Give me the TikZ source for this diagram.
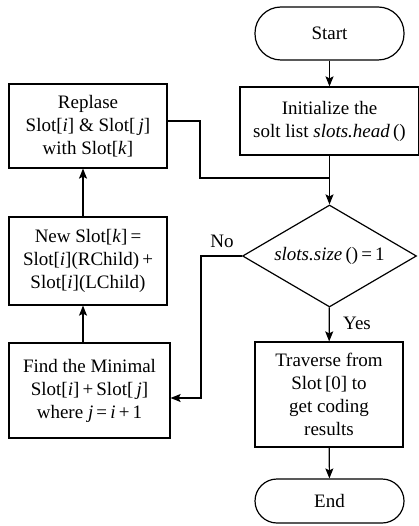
\documentclass[tikz,border=0pt]{standalone}
\usepackage{fontspec}
\setmainfont{Liberation Serif}
\usetikzlibrary{shapes.geometric,arrows.meta}
\begin{document}
\begin{tikzpicture}[x=1pt,y=1pt,
  every node/.style={font=\fontsize{19}{23}\selectfont},
  box/.style={draw,line width=1.2pt,rectangle,align=center,inner sep=0pt},
  term/.style={draw,line width=1.2pt,rectangle,rounded corners=26pt,align=center,inner sep=0pt},
  dec/.style={draw,line width=1.2pt,diamond,aspect=1.7,inner sep=0pt,align=center},
  conn/.style={line width=1.2pt},
  arr/.style={line width=1.2pt,-{Stealth[length=10pt,width=8pt,inset=2pt]}},
  lbl/.style={inner sep=0pt}
]
\useasboundingbox (0,0) rectangle (419,-526);
\node[term,minimum width=149pt,minimum height=53pt] (start) at (329.5,-33.5) {Start};
\node[box,minimum width=179pt,minimum height=68pt] (init) at (329.5,-121) {Initialize the\\solt list \textit{slots.head}\,()};
\node[dec,minimum width=174pt,minimum height=102pt] (dia) at (329.5,-256) {\textit{slots.size}\,()\,=\,1};
\node[box,minimum width=148pt,minimum height=105pt] (trav) at (329,-394.5) {Traverse from\\Slot\,[0] to\\get coding\\results};
\node[term,minimum width=149pt,minimum height=44pt,rounded corners=22pt] (end) at (329.5,-501) {End};
\node[box,minimum width=158pt,minimum height=84pt] (rep) at (88,-126) {Replase\\Slot[\textit{i}] \& Slot[\,\textit{j}]\\with Slot[\textit{k}]};
\node[box,minimum width=158pt,minimum height=88pt] (new) at (88,-261) {New Slot[\textit{k}]\,=\\Slot[\textit{i}](RChild)\,+\\Slot[\textit{i}](LChild)};
\node[box,minimum width=161pt,minimum height=95pt] (find) at (89.5,-390.5) {Find the Minimal\\Slot[\textit{i}]\,+\,Slot[\,\textit{j}]\\where \textit{j}\,=\,\textit{i}\,+\,1};
\node[lbl] (no) at (222,-241) {No};
\node[lbl] (yes) at (357,-323) {Yes};
\coordinate (c1) at (200,-178);
\coordinate (jn) at (329.5,-178);
\coordinate (c2) at (201,-256);
\coordinate (ax) at (83,0);
\draw[arr] (start) -- (init);
\draw[arr] (init) -- (dia);
\draw[conn] ([yshift=5pt]rep.east) -| (c1) -- (jn);
\draw[arr] (dia) -- (trav);
\draw[arr] (trav) -- (end);
\draw[arr] (dia.west) -- (c2) |- ([yshift=-7.5pt]find.east);
\draw[arr] (find.north -| ax) -- (new.south -| ax);
\draw[arr] (new.north -| ax) -- (rep.south -| ax);
\end{tikzpicture}
\end{document}
